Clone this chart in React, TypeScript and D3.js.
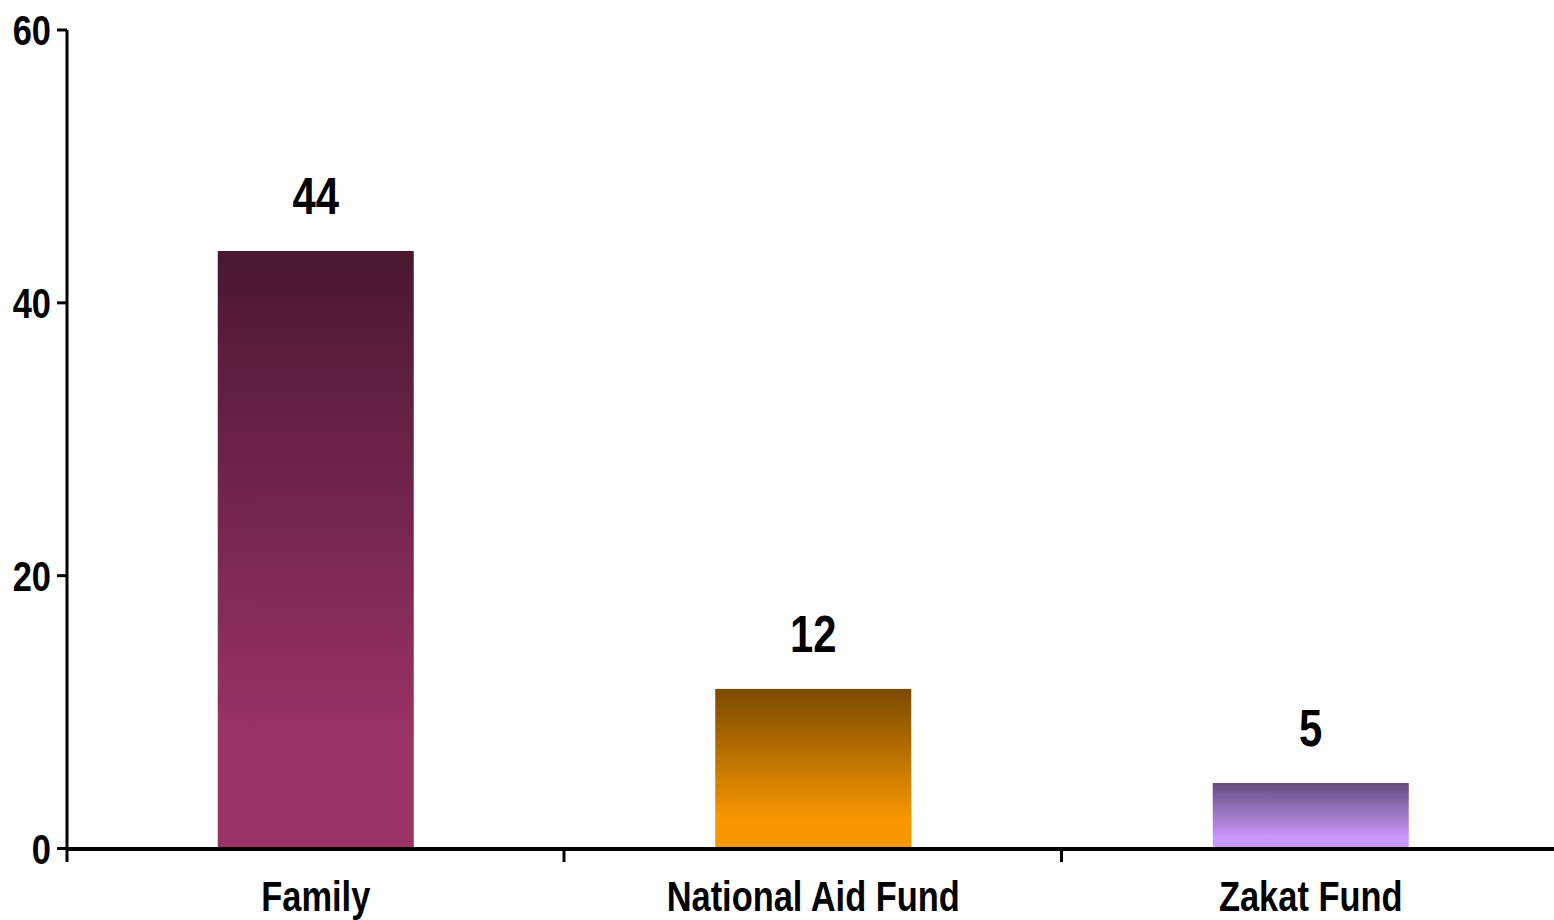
import React from "react";
import * as d3 from "d3";

const categories = ["Family", "National Aid Fund", "Zakat Fund"];
const values = [43.8, 11.7, 4.8];
const valueLabels = ["44", "12", "5"];
const yTicks = [0, 20, 40, 60];
const gradTop = ["#4a172f", "#7a4a00", "#634c7e"];
const gradBottom = ["#9b3366", "#f99700", "#c897fa"];

const W = 1554;
const H = 920;
const FONT = "'Liberation Sans', Arial, sans-serif";
const SX = 0.82;

function NarrowText({ x, y, size, anchor, dy, children }: any) {
  return (
    <text
      transform={`translate(${x},${y}) scale(${SX},1)`}
      dy={dy}
      textAnchor={anchor}
      fontFamily={FONT}
      fontWeight="bold"
      fontSize={size}
      fill="#000"
    >
      {children}
    </text>
  );
}

export default function App() {
  const y = d3.scaleLinear().domain([0, 60]).range([848.5, 30]);
  const x = d3.scaleBand<string>().domain(categories).range([67, 1559.5]).padding(0);
  const bw = x.bandwidth() * 0.394;
  const axisX = 67;
  const axisY = 849;

  return (
    <div style={{ position: "fixed", left: 0, top: 0 }}>
      <svg width={W} height={H} style={{ display: "block", background: "#fff" }}>
        <defs>
          {categories.map((c, i) => (
            <linearGradient key={c} id={`g${i}`} x1="0" y1="0" x2="0" y2="1">
              <stop offset="0" stopColor={gradTop[i]} />
              <stop offset="0.82" stopColor={gradBottom[i]} />
              <stop offset="1" stopColor={gradBottom[i]} />
            </linearGradient>
          ))}
        </defs>

        {categories.map((c, i) => {
          const cx = (x(c) as number) + x.bandwidth() / 2;
          return (
            <g key={c}>
              <rect
                x={cx - bw / 2}
                y={y(values[i])}
                width={bw}
                height={y(0) - y(values[i])}
                fill={`url(#g${i})`}
              />
              <NarrowText x={cx} y={y(values[i]) - 37} size={51} anchor="middle">
                {valueLabels[i]}
              </NarrowText>
              <NarrowText x={cx} y={911} size={42} anchor="middle">
                {c}
              </NarrowText>
            </g>
          );
        })}

        {/* y axis */}
        <line x1={axisX} x2={axisX} y1={y(60)} y2={862} stroke="#000" strokeWidth={3} />
        {yTicks.map((t) => (
          <g key={t}>
            <line x1={57} x2={axisX} y1={y(t)} y2={y(t)} stroke="#000" strokeWidth={3} />
            <NarrowText x={51} y={y(t)} dy="0.36em" size={42} anchor="end">
              {t}
            </NarrowText>
          </g>
        ))}

        {/* x axis */}
        <line x1={axisX} x2={W} y1={axisY} y2={axisY} stroke="#000" strokeWidth={4} />
        {categories.slice(1).map((c) => (
          <line
            key={c}
            x1={(x(c) as number) - 0.5}
            x2={(x(c) as number) - 0.5}
            y1={axisY}
            y2={862}
            stroke="#000"
            strokeWidth={3}
          />
        ))}
      </svg>
    </div>
  );
}
